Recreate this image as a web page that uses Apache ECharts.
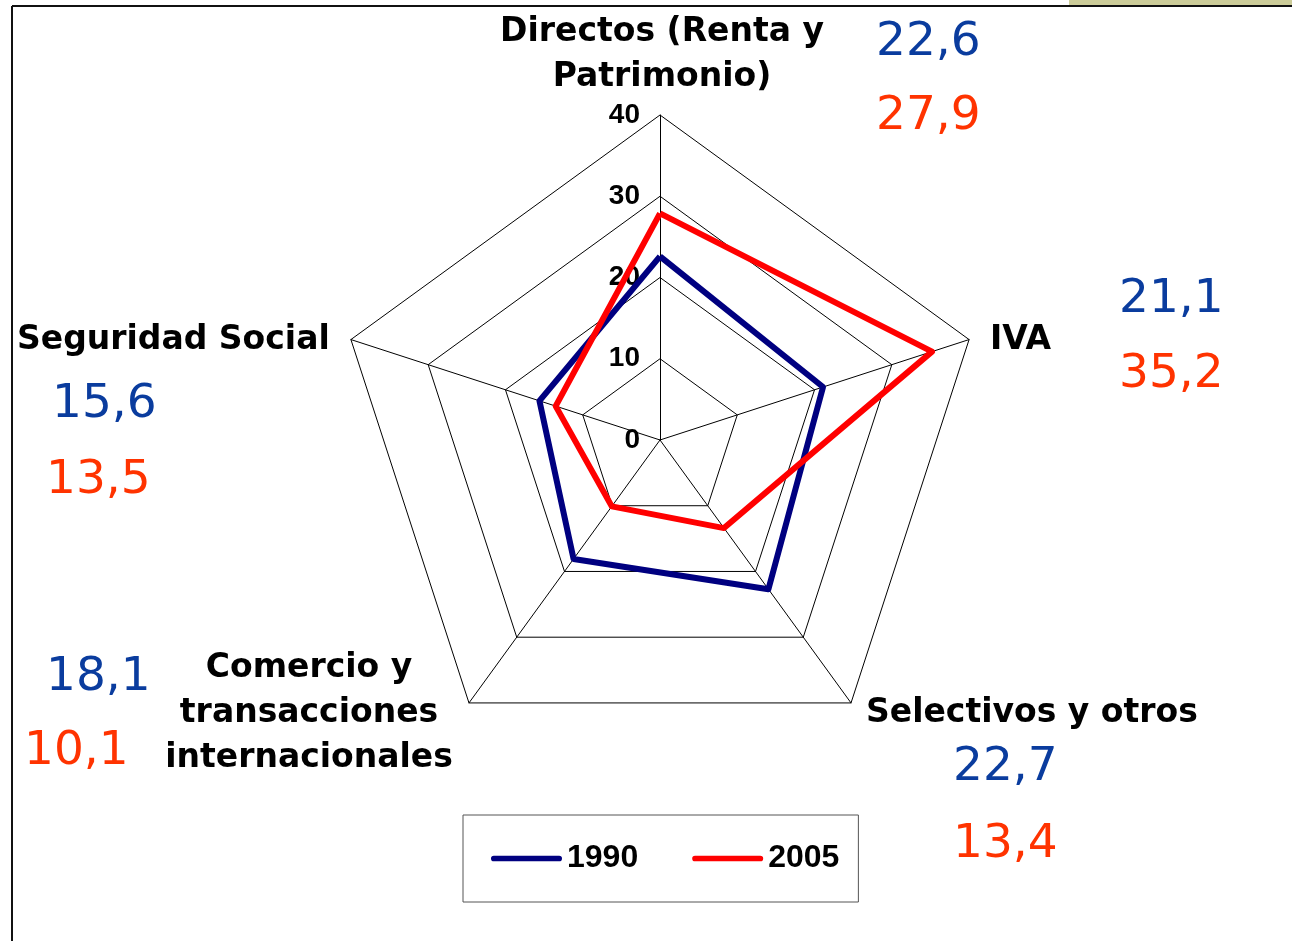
<!DOCTYPE html>
<html>
<head>
<meta charset="utf-8">
<script src="https://cdn.jsdelivr.net/npm/echarts@6/dist/echarts.min.js"></script>
<style>
  html, body { margin: 0; padding: 0; background: #fff; }
  #main { width: 1292px; height: 941px; }
</style>
</head>
<body>
<div id="main"></div>
<script>
// indicator order follows the radar going round from the top, counter-clockwise
const categories = ['Directos (Renta y\nPatrimonio)', 'Seguridad Social', 'Comercio y\ntransacciones\ninternacionales', 'Selectivos y otros', 'IVA'];
const years = ['1990', '2005'];
const values1990 = [22.6, 15.6, 18.1, 22.7, 21.1];
const values2005 = [27.9, 13.5, 10.1, 13.4, 35.2];
const axisMax = 40;

const blueTxt = '#0a3c9e';
const redTxt = '#ff3300';
const fmt = v => v.toFixed(1).replace('.', ',');

var myChart = echarts.init(document.getElementById('main'));

// where each category name + its two values go on the page (y = middle of the text block)
const nameSpots = [
    { x: 662, y: 55, align: 'center' },
    { x: 17, y: 340, align: 'left' },
    { x: 309, y: 713, align: 'center' },
    { x: 866, y: 713, align: 'left' },
    { x: 990, y: 340, align: 'left' }
];
const valueSpots = [
    [{ x: 876, y: 43 }, { x: 876, y: 117 }],
    [{ x: 52, y: 405 }, { x: 46, y: 481 }],
    [{ x: 46, y: 678 }, { x: 24, y: 752 }],
    [{ x: 953, y: 768 }, { x: 953, y: 845 }],
    [{ x: 1119, y: 300 }, { x: 1119, y: 375 }]
];

let graphics = [
    // frame lines + beige corner tab
    { type: 'rect', shape: { x: 1069, y: 0, width: 223, height: 5 }, style: { fill: '#cccc99' } },
    { type: 'line', shape: { x1: 12, y1: 6, x2: 1292, y2: 6 }, style: { stroke: '#111', lineWidth: 2 } },
    { type: 'line', shape: { x1: 12, y1: 6, x2: 12, y2: 941 }, style: { stroke: '#111', lineWidth: 2 } }
];
categories.forEach((name, i) => {
    graphics.push({
        type: 'text', x: nameSpots[i].x, y: nameSpots[i].y,
        style: {
            text: name, font: 'bold 33px "DejaVu Sans"', fill: '#000',
            align: nameSpots[i].align, verticalAlign: 'middle', lineHeight: 45
        }
    });
    [values1990, values2005].forEach((vals, k) => {
        graphics.push({
            type: 'text', x: valueSpots[i][k].x, y: valueSpots[i][k].y,
            style: {
                text: fmt(vals[i]), font: '47px "DejaVu Sans"',
                fill: k === 0 ? blueTxt : redTxt, align: 'left', verticalAlign: 'middle'
            }
        });
    });
});

myChart.setOption({
    animation: false,
    backgroundColor: '#fff',
    legend: {
        data: years,
        left: 463,
        top: 815,
        orient: 'horizontal',
        borderColor: '#555',
        borderWidth: 1,
        padding: [27, 19, 27, 28],
        itemGap: 54,
        itemWidth: 71,
        itemHeight: 8,
        icon: 'path://M4,0 L96,0 A4,4 0 0 1 96,8 L4,8 A4,4 0 0 1 4,0 Z',
        textStyle: {
            fontFamily: '"Liberation Sans", Arial, sans-serif',
            fontWeight: 'bold',
            fontSize: 32,
            color: '#000',
            lineHeight: 33
        }
    },
    radar: {
        center: [660, 440],
        radius: 325,
        startAngle: 90,
        shape: 'polygon',
        splitNumber: 4,
        indicator: categories.map((c, i) => ({
            name: c, min: 0, max: axisMax,
            axisLabel: { show: i === 0 }
        })),
        axisName: { show: false },
        axisLine: { lineStyle: { color: '#000', width: 1 } },
        splitLine: { lineStyle: { color: '#000', width: 1 } },
        splitArea: { show: false },
        axisTick: { show: false },
        axisLabel: {
            show: false,
            fontFamily: '"Liberation Sans", Arial, sans-serif',
            fontWeight: 'bold',
            fontSize: 28,
            color: '#000',
            margin: 20
        }
    },
    series: [{
        type: 'radar',
        symbol: 'none',
        data: [
            { name: years[0], value: values1990, lineStyle: { color: '#000080', width: 6 }, itemStyle: { color: '#000080' } },
            { name: years[1], value: values2005, lineStyle: { color: '#ff0000', width: 6 }, itemStyle: { color: '#ff0000' } }
        ]
    }],
    graphic: graphics
});
</script>
</body>
</html>
